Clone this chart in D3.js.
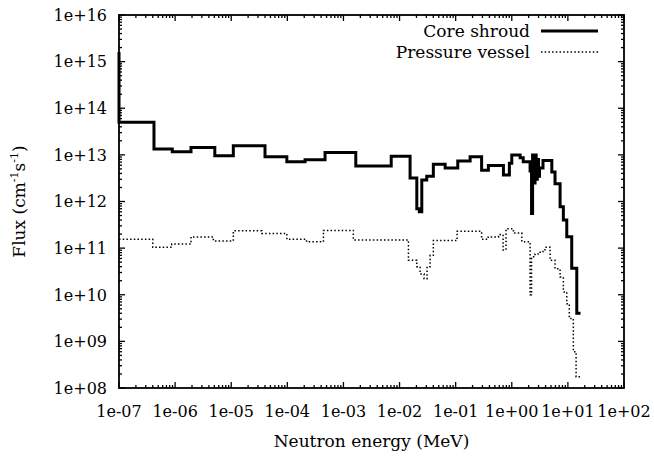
<!DOCTYPE html>
<html>
<head>
<meta charset="utf-8">
<script src="https://cdn.jsdelivr.net/npm/d3@7"></script>
<style>
  body { margin: 0; background: #fff; }
  text { font-family: "DejaVu Serif", "Liberation Serif", serif; }
</style>
</head>
<body>
<svg id="chart" width="654" height="456"></svg>
<script>
// bin start energies (MeV) and flux in each bin, last edge closes the final bin
const coreEnergy = [1e-7, 1e-7, 4.2e-7, 8.9e-7, 1.92e-6, 5.1e-6, 1.09e-5, 4.0e-5, 9.8e-5, 2.07e-4,
  4.7e-4, 1.66e-3, 7.1e-3, 1.54e-2, 2.03e-2, 2.25e-2, 2.49e-2, 3.05e-2, 4.0e-2, 6.5e-2,
  0.109, 0.181, 0.29, 0.383, 0.71, 0.906, 1.0, 1.41, 1.6, 2.12,
  2.25, 2.35, 2.5, 2.6, 2.72, 2.85, 3.0, 3.12, 3.6, 5.17,
  5.9, 7.26, 8.3, 9.55, 11.7, 14.4, 16.8]
const coreFlux = [1.6e15, 5.0e13, 1.33e13, 1.17e13, 1.44e13, 9.6e12, 1.57e13, 9.1e12, 7.1e12, 7.9e12,
  1.12e13, 5.75e12, 9.3e12, 3.2e12, 7.0e11, 6.0e11, 2.9e12, 3.5e12, 6.3e12, 5.2e12,
  7.4e12, 9.1e12, 4.7e12, 5.9e12, 3.7e12, 6.6e12, 1.0e13, 8.7e12, 7.1e12, 4.5e12,
  5.5e11, 1.0e13, 2.5e12, 1.0e13, 3.0e12, 8.0e12, 3.5e12, 5.2e12, 7.6e12, 4.3e12,
  2.4e12, 7.7e11, 4.0e11, 1.75e11, 3.7e10, 4.0e9]

const vesselEnergy = [1e-7, 4.0e-7, 8.7e-7, 1.92e-6, 4.8e-6, 1.09e-5, 3.5e-5, 9.8e-5, 2.2e-4, 4.4e-4,
  1.5e-3, 1.44e-2, 2.03e-2, 2.32e-2, 2.74e-2, 3.09e-2, 3.5e-2, 4.0e-2, 0.106, 0.29,
  0.38, 0.58, 0.70, 0.79, 1.07, 1.51, 2.12, 2.25, 2.6, 3.2,
  3.9, 4.82, 5.9, 7.26, 8.3, 9.55, 10.6, 12.5, 14.0, 17.0]
const vesselFlux = [1.55e11, 1.04e11, 1.22e11, 1.74e11, 1.43e11, 2.35e11, 2.07e11, 1.55e11, 1.37e11, 2.4e11,
  1.5e11, 5.5e10, 4.0e10, 2.8e10, 2.2e10, 4.0e10, 7.0e10, 1.45e11, 2.3e11, 1.55e11,
  1.74e11, 1.95e11, 9.1e10, 2.6e11, 2.1e11, 1.37e11, 1.0e10, 6.5e10, 7.5e10, 8.5e10,
  1.05e11, 5.5e10, 3.6e10, 2.4e10, 1.15e10, 6.4e9, 3.1e9, 6e8, 1.74e8]

const xTicks = [1e-7, 1e-6, 1e-5, 1e-4, 1e-3, 1e-2, 1e-1, 1e0, 1e1, 1e2]
const xTickLabels = ["1e-07", "1e-06", "1e-05", "1e-04", "1e-03", "1e-02", "1e-01", "1e+00", "1e+01", "1e+02"]
const yTicks = [1e8, 1e9, 1e10, 1e11, 1e12, 1e13, 1e14, 1e15, 1e16]
const yTickLabels = ["1e+08", "1e+09", "1e+10", "1e+11", "1e+12", "1e+13", "1e+14", "1e+15", "1e+16"]
const seriesNames = ["Core shroud", "Pressure vessel"]

const margin = {top: 15, right: 30, bottom: 68, left: 119}
const width = 654 - margin.left - margin.right
const height = 456 - margin.top - margin.bottom
const tickFs = 16
const fs = 17

const svg = d3.select('#chart')
const g = svg.append('g').attr('transform', `translate(${margin.left},${margin.top})`)

const x = d3.scaleLog().domain([1e-7, 1e2]).range([0, width])
const y = d3.scaleLog().domain([1e8, 1e16]).range([height, 0])

// minor ticks 2..9 in each decade
const minor = (lo, hi) => {
  const out = []
  for (let e = lo; e < hi; e++) for (let m = 2; m <= 9; m++) out.push(m * Math.pow(10, e))
  return out
}
const xMinor = minor(-7, 2)
const yMinor = minor(8, 16)

const tickLine = (sel) => sel.attr('stroke', '#000').attr('stroke-width', 1.3)

// x ticks, bottom and top, pointing inward
const xt = g.append('g')
xt.selectAll('.xmaj').data(xTicks).join('line')
  .attr('x1', d => x(d)).attr('x2', d => x(d)).attr('y1', height).attr('y2', height - 6).call(tickLine)
xt.selectAll('.xmajt').data(xTicks).join('line')
  .attr('x1', d => x(d)).attr('x2', d => x(d)).attr('y1', 0).attr('y2', 6).call(tickLine)
xt.selectAll('.xmin').data(xMinor).join('line')
  .attr('x1', d => x(d)).attr('x2', d => x(d)).attr('y1', height).attr('y2', height - 3).call(tickLine)
xt.selectAll('.xmint').data(xMinor).join('line')
  .attr('x1', d => x(d)).attr('x2', d => x(d)).attr('y1', 0).attr('y2', 3).call(tickLine)

const yt = g.append('g')
yt.selectAll('.ymaj').data(yTicks).join('line')
  .attr('y1', d => y(d)).attr('y2', d => y(d)).attr('x1', 0).attr('x2', 6).call(tickLine)
yt.selectAll('.ymajr').data(yTicks).join('line')
  .attr('y1', d => y(d)).attr('y2', d => y(d)).attr('x1', width).attr('x2', width - 6).call(tickLine)
yt.selectAll('.ymin').data(yMinor).join('line')
  .attr('y1', d => y(d)).attr('y2', d => y(d)).attr('x1', 0).attr('x2', 3).call(tickLine)
yt.selectAll('.yminr').data(yMinor).join('line')
  .attr('y1', d => y(d)).attr('y2', d => y(d)).attr('x1', width).attr('x2', width - 3).call(tickLine)

// tick labels
g.append('g').selectAll('text').data(xTicks).join('text')
  .attr('x', d => x(d)).attr('y', height + 29)
  .attr('text-anchor', 'middle').attr('font-size', tickFs)
  .text((d, i) => xTickLabels[i])
g.append('g').selectAll('text').data(yTicks).join('text')
  .attr('x', -12).attr('y', d => y(d)).attr('dy', '0.36em')
  .attr('text-anchor', 'end').attr('font-size', tickFs)
  .text((d, i) => yTickLabels[i])

// curves
const toPoints = (es, fl) => es.map((e, i) => [e, i < fl.length ? fl[i] : fl[fl.length - 1]])
const line = d3.line().x(d => x(d[0])).y(d => y(d[1])).curve(d3.curveStepAfter)

g.append('path').datum(toPoints(vesselEnergy, vesselFlux))
  .attr('d', line).attr('fill', 'none').attr('stroke', '#000')
  .attr('stroke-width', 1.5).attr('stroke-dasharray', '1.5 2.2')
g.append('path').datum(toPoints(coreEnergy, coreFlux))
  .attr('d', line).attr('fill', 'none').attr('stroke', '#000')
  .attr('stroke-width', 3).attr('stroke-linejoin', 'miter')

// frame
g.append('rect').attr('width', width).attr('height', height)
  .attr('fill', 'none').attr('stroke', '#000').attr('stroke-width', 1.8)

// legend
const leg = g.append('g').attr('transform', `translate(${width - 94},0)`)
seriesNames.forEach((name, i) => {
  const ly = 16 + i * 21
  leg.append('text').attr('x', 0).attr('y', ly).attr('dy', '0.36em')
    .attr('text-anchor', 'end').attr('font-size', fs).text(name)
  leg.append('line').attr('x1', 11).attr('x2', 68).attr('y1', ly).attr('y2', ly)
    .attr('stroke', '#000')
    .attr('stroke-width', i === 0 ? 3 : 1.5)
    .attr('stroke-dasharray', i === 0 ? null : '1.5 2.2')
})

// axis titles
svg.append('text').attr('x', margin.left + width / 2).attr('y', 447)
  .attr('text-anchor', 'middle').attr('font-size', fs).text('Neutron energy (MeV)')

const yl = svg.append('text')
  .attr('transform', `translate(25,${margin.top + height / 2}) rotate(-90)`)
  .attr('text-anchor', 'middle').attr('font-size', fs)
yl.append('tspan').text('Flux (cm')
yl.append('tspan').attr('font-size', 11).attr('dy', -7).text('-1')
yl.append('tspan').attr('dy', 7).text('s')
yl.append('tspan').attr('font-size', 11).attr('dy', -7).text('-1')
yl.append('tspan').attr('dy', 7).text(')')
</script>
</body>
</html>
